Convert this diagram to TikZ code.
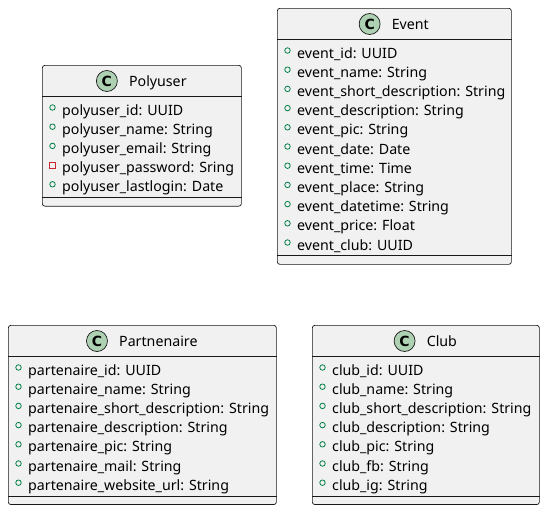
\documentclass[tikz,border=0pt]{standalone}
\usepackage{fontspec}
\setmainfont{Noto Sans}
\newfontfamily\spotfont{DejaVu Sans}
\definecolor{boxfill}{HTML}{F1F1F1}
\definecolor{boxline}{HTML}{181818}
\definecolor{spotfill}{HTML}{ADD1B2}
\definecolor{pubcol}{HTML}{038048}
\definecolor{privcol}{HTML}{C82930}
\tikzset{
  classbox/.style={draw=boxline, fill=boxfill, line width=0.7pt, rounded corners=2.5pt, inner sep=0pt, anchor=north west},
  sepline/.style={draw=boxline, line width=0.7pt},
  titletext/.style={font=\fontsize{14.2}{16}\selectfont, inner sep=0pt, anchor=base},
  spot/.style={circle, draw=boxline, fill=spotfill, line width=0.7pt, minimum size=21pt, inner sep=0pt,
    font=\spotfont\bfseries\fontsize{14}{16}\selectfont},
  attrtext/.style={font=\fontsize{14.2}{16}\selectfont, inner sep=0pt, anchor=base west},
  pubmark/.style={circle, draw=pubcol, line width=0.8pt, minimum size=5.5pt, inner sep=0pt},
  privmark/.style={rectangle, draw=privcol, line width=0.8pt, minimum size=6pt, inner sep=0pt},
}
\usetikzlibrary{calc}
% #1 name, #2 left, #3 right, #4 top, #5 title, #6 list of mark/text
\newcommand{\umlclassbox}[6]{%
  \pgfmathsetmacro{\cw}{#3-#2}%
  \def\cnt{0}%
  \foreach \m/\t [count=\i] in {#6} {\xdef\cnt{\i}}%
  \pgfmathsetmacro{\ch}{64+(\cnt-1)*19.2}%
  \node[classbox, minimum width=\cw pt, minimum height=\ch pt] (#1) at (#2,#4) {};
  \draw[sepline] ($(#1.north west)+(0,31.5)$) -- ($(#1.north east)+(0,31.5)$);
  \draw[sepline] ($(#1.south west)+(0,-9)$) -- ($(#1.south east)+(0,-9)$);
  \node[titletext] (#1-title) at ($(#1.north)+(16,21)$) {#5};
  \node[spot] (#1-spot) at ($(#1-title.base west)+(-22,-5)$) {C};
  \foreach \m/\t [count=\i] in {#6} {
    \pgfmathsetmacro{\yy}{42.5+(\i-1)*19.2}
    \node[\m] (#1-mark-\i) at ($(#1.north west)+(10.5,\yy)$) {};
    \node[attrtext] (#1-attr-\i) at ($(#1.north west)+(20,\yy+7.5)$) {\t};
  }
}
\begin{document}
\begin{tikzpicture}[x=1pt, y=-1pt]
\useasboundingbox (0,0) rectangle (544,512);
\umlclassbox{polyuser}{42}{241}{65}{Polyuser}{
  pubmark/{polyuser\_id: UUID},
  pubmark/{polyuser\_name: String},
  pubmark/{polyuser\_email: String},
  privmark/{polyuser\_password: Sring},
  pubmark/{polyuser\_lastlogin: Date}}
\umlclassbox{event}{277}{511}{8}{Event}{
  pubmark/{event\_id: UUID},
  pubmark/{event\_name: String},
  pubmark/{event\_short\_description: String},
  pubmark/{event\_description: String},
  pubmark/{event\_pic: String},
  pubmark/{event\_date: Date},
  pubmark/{event\_time: Time},
  pubmark/{event\_place: String},
  pubmark/{event\_datetime: String},
  pubmark/{event\_price: Float},
  pubmark/{event\_club: UUID}}
\umlclassbox{partnenaire}{8}{276}{325}{Partnenaire}{
  pubmark/{partenaire\_id: UUID},
  pubmark/{partenaire\_name: String},
  pubmark/{partenaire\_short\_description: String},
  pubmark/{partenaire\_description: String},
  pubmark/{partenaire\_pic: String},
  pubmark/{partenaire\_mail: String},
  pubmark/{partenaire\_website\_url: String}}
\umlclassbox{club}{312}{539}{325}{Club}{
  pubmark/{club\_id: UUID},
  pubmark/{club\_name: String},
  pubmark/{club\_short\_description: String},
  pubmark/{club\_description: String},
  pubmark/{club\_pic: String},
  pubmark/{club\_fb: String},
  pubmark/{club\_ig: String}}
\end{tikzpicture}
\end{document}
